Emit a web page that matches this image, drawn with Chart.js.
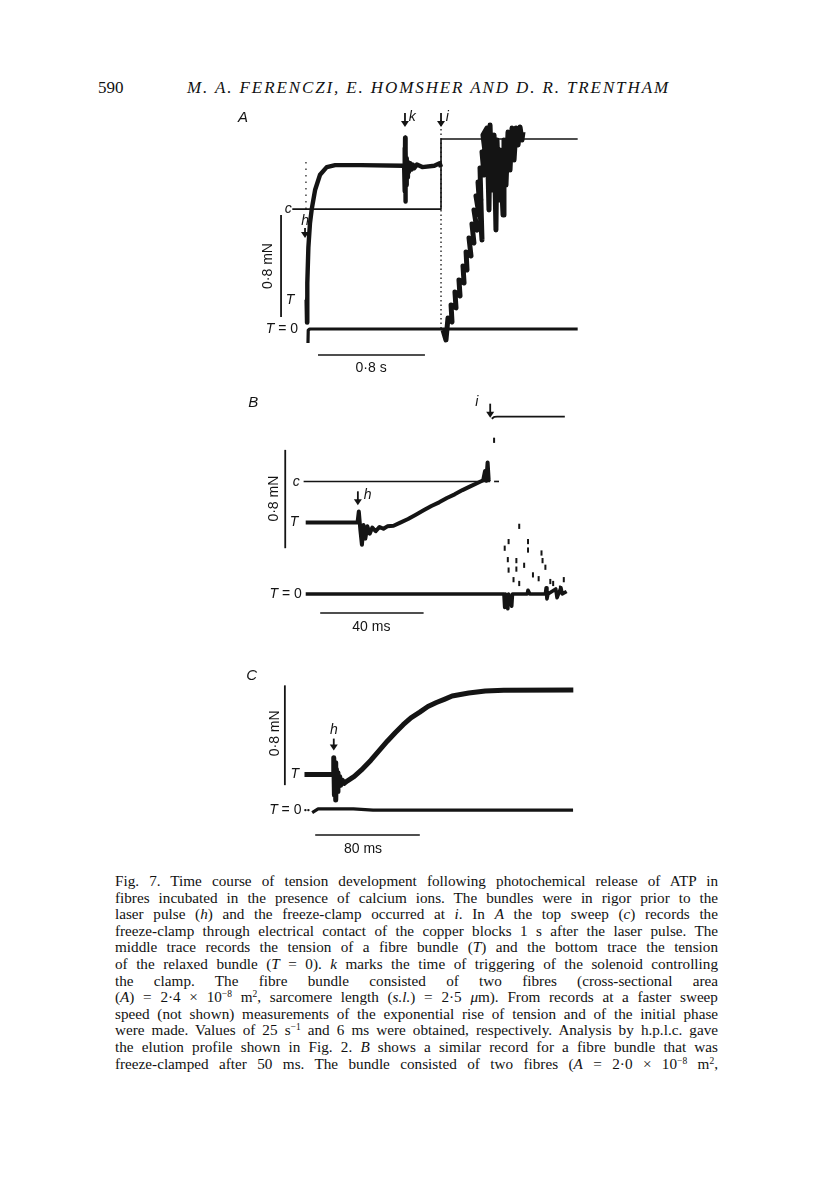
<!DOCTYPE html>
<html>
<head>
<meta charset="utf-8">
<script src="https://cdn.jsdelivr.net/npm/chart.js@4.4.1/dist/chart.umd.min.js"></script>
<style>
  body { margin: 0; background: #fff; width: 816px; height: 1181px; position: relative; overflow: hidden;
         font-family: "Liberation Serif", serif; color: #111; }
  canvas { position: absolute; }
  #pg { position: absolute; left: 98px; top: 79px; font-size: 17px; line-height: 17px; }
  #ttl { position: absolute; left: 187px; top: 79px; font-size: 17px; line-height: 17px; font-style: italic; white-space: nowrap; }
  #cap { position: absolute; left: 115px; top: 873px; width: 603px; font-size: 15.2px; line-height: 16.6px; }
  #cap div { white-space: nowrap; height: 16.6px; }
  sup { font-size: 9.5px; line-height: 0; vertical-align: 5px; }
</style>
</head>
<body>
<div id="pg">590</div>
<div id="ttl">M. A. FERENCZI, E. HOMSHER AND D. R. TRENTHAM</div>

<canvas id="panelA" width="360" height="270" style="left:230px;top:105px"></canvas>
<canvas id="panelB" width="360" height="255" style="left:230px;top:385px"></canvas>
<canvas id="panelC" width="360" height="200" style="left:230px;top:665px"></canvas>

<div id="cap">
<div>Fig. 7. Time course of tension development following photochemical release of ATP in</div>
<div>fibres incubated in the presence of calcium ions. The bundles were in rigor prior to the</div>
<div>laser pulse (<i>h</i>) and the freeze-clamp occurred at <i>i</i>. In <i>A</i> the top sweep (<i>c</i>) records the</div>
<div>freeze-clamp through electrical contact of the copper blocks 1 s after the laser pulse. The</div>
<div>middle trace records the tension of a fibre bundle (<i>T</i>) and the bottom trace the tension</div>
<div>of the relaxed bundle (<i>T</i> = 0). <i>k</i> marks the time of triggering of the solenoid controlling</div>
<div>the clamp. The fibre bundle consisted of two fibres (cross-sectional area</div>
<div>(<i>A</i>) = 2·4 × 10<sup>−8</sup> m<sup>2</sup>, sarcomere length (<i>s.l.</i>) = 2·5 <i>μ</i>m). From records at a faster sweep</div>
<div>speed (not shown) measurements of the exponential rise of tension and of the initial phase</div>
<div>were made. Values of 25 s<sup>−1</sup> and 6 ms were obtained, respectively. Analysis by h.p.l.c. gave</div>
<div>the elution profile shown in Fig. 2. <i>B</i> shows a similar record for a fibre bundle that was</div>
<div>freeze-clamped after 50 ms. The bundle consisted of two fibres (<i>A</i> = 2·0 × 10<sup>−8</sup> m<sup>2</sup>,</div>
</div>

<script>
// ---- panel A: time in s after the laser pulse, tension in mN ----
const aClampTime = [-0.11, 1.0, 1.0, 2.02];
const aClampForce = [0.94, 0.94, 1.49, 1.49];

const aTensionTime = [-0.015, -0.003, 0.0, 0.002, 0.010, 0.022, 0.035, 0.06, 0.097, 0.147, 0.21, 0.40, 0.72,
  0.725, 0.728, 0.730, 0.732, 0.734, 0.737, 0.740, 0.744, 0.748, 0.753, 0.76, 0.77, 0.78, 0.79, 0.80, 0.82,
  0.86, 0.95, 0.99, 1.0];
const aTensionForce = [0.23, 0.23, 0.05, 0.36, 0.64, 0.83, 0.94, 1.09, 1.21, 1.27, 1.285, 1.285, 1.28,
  1.27, 1.42, 1.08, 1.50, 1.00, 1.40, 1.13, 1.34, 1.19, 1.31, 1.23, 1.30, 1.25, 1.29, 1.26, 1.29,
  1.27, 1.28, 1.30, 1.27];

const aClampedTime = [1.015, 1.037, 1.052, 1.082, 1.075, 1.112, 1.104, 1.142, 1.134, 1.172, 1.164, 1.194,
  1.187, 1.224, 1.209, 1.246, 1.231, 1.269, 1.246, 1.284, 1.261, 1.299, 1.276, 1.306, 1.291, 1.321, 1.306,
  1.336, 1.313, 1.343, 1.358, 1.366, 1.381, 1.396, 1.410, 1.418, 1.433, 1.440, 1.463, 1.470, 1.485, 1.500,
  1.515, 1.530, 1.545, 1.560, 1.575, 1.590, 1.604, 1.612];
const aClampedForce = [-0.008, -0.086, 0.086, 0.055, 0.188, 0.165, 0.290, 0.259, 0.384, 0.361, 0.494, 0.463,
  0.604, 0.573, 0.714, 0.675, 0.824, 0.776, 0.933, 0.894, 1.043, 1.012, 1.153, 0.698, 1.263, 1.208, 1.388,
  1.325, 1.522, 1.576, 0.933, 1.600, 1.090, 1.522, 0.776, 1.482, 1.012, 1.404, 0.894, 1.482, 1.129, 1.545,
  1.247, 1.576, 1.325, 1.576, 1.443, 1.584, 1.482, 1.545];

const aRelaxedTime = [0.007, 0.009, 0.02, 2.02];
const aRelaxedForce = [-0.11, -0.01, 0, 0];

const aMarkTime = [-0.008, -0.008, 1.0, 1.0];
const aMarkForce = [1.31, 0.93, 1.64, 0.0];

const aBarTime = [-0.194, -0.194, 0.082, 0.88];
const aBarForce = [0.094, 0.894, -0.204, -0.204];

// ---- panel B: time in ms after the laser pulse, tension in mN ----
const bClampTime = [-21.3, 50.7, 52.2, 54.1, 51.3, 52.2, 53.4, 79.5];
const bClampForce = [0.915, 0.915, 0.915, 0.915, 1.425, 1.44, 1.442, 1.442];

const bTensionTime = [-20.5, -0.5, 0, 0.6, 1.2, 1.8, 2.5, 3.3, 4.2, 5.2, 6.5, 8, 9.5, 11, 13.4, 16, 19, 22, 25,
  28, 31, 34, 37, 40, 43, 46, 48, 48.7, 49.2, 49.7, 50.1, 50.7];
const bTensionForce = [0.581, 0.581, 0.67, 0.52, 0.40, 0.56, 0.45, 0.55, 0.49, 0.54, 0.51, 0.545, 0.53, 0.55,
  0.555, 0.58, 0.61, 0.645, 0.68, 0.715, 0.745, 0.78, 0.81, 0.845, 0.875, 0.905, 0.925, 1.0, 0.92, 1.07,
  0.93, 0.935];

const bRelaxedTime = [-20.5, 56, 56.3, 56.6, 57.5, 57.8, 59, 59.3, 65, 65.3, 66, 72, 72.3, 72.6, 73, 76, 76.5,
  78, 78.5, 80.2];
const bRelaxedForce = [0, 0, -0.11, 0, -0.12, 0, -0.1, 0, 0, 0.03, 0, 0, 0.05, -0.04, 0, 0.04, -0.03,
  0.05, 0, 0.02];

const bSpeckTime = [61.9, 57.8, 56.3, 65.3, 65.3, 57.5, 60.8, 63.8, 70.5, 70.9, 72.0, 57.8, 60.8, 67.2, 69.4,
  73.9, 75.0, 79.1, 59.7, 61.9, 77.6, 52.2];
const bSpeckForce = [0.55, 0.426, 0.372, 0.426, 0.357, 0.279, 0.271, 0.233, 0.333, 0.271, 0.217, 0.194,
  0.202, 0.155, 0.124, 0.101, 0.085, 0.116, 0.116, 0.085, 0.047, 1.25];

const bBarTime = [-28.4, -28.4, -14.9, 25.0];
const bBarForce = [0.372, 1.172, -0.155, -0.155];

// ---- panel C: time in ms after the laser pulse, tension in mN ----
const cTensionTime = [-22.4, -0.5, 0, 0.5, 1, 1.5, 2, 2.6, 3.2, 3.8, 4.5, 5.3, 6.5, 8, 10.5, 15.7, 21, 28.4,
  35, 41.1, 47, 53.1, 59, 65.8, 72, 78.5, 85, 90.5, 103.2, 115.9, 130, 183.2];
const cTensionForce = [0.285, 0.285, 0.42, 0.12, 0.38, 0.08, 0.33, 0.15, 0.30, 0.19, 0.27, 0.2, 0.24, 0.215,
  0.235, 0.27, 0.32, 0.40, 0.48, 0.554, 0.62, 0.685, 0.74, 0.785, 0.83, 0.862, 0.89, 0.915, 0.938, 0.954,
  0.96, 0.962];

const cRelaxedTime = [-16.5, -12, 15, 30, 183];
const cRelaxedForce = [-0.02, 0.01, 0.01, 0, 0];

const cDotTime = [-21.7, -19.4];
const cDotForce = [0, 0];

const cBarTime = [-37.4, -37.4, -14.2, 65.8];
const cBarForce = [0.2, 1.0, -0.2, -0.2];

const ink = '#141414';

function pts(ts, fs) { return ts.map((t, i) => ({ x: t, y: fs[i] })); }
function line(ts, fs, w, dash) {
  return { data: pts(ts, fs), borderColor: ink, borderWidth: w, pointRadius: 0, tension: 0,
           borderDash: dash || [], borderCapStyle: 'butt', borderJoinStyle: 'round', fill: false };
}
function bars(ts, fs) {
  return [line(ts.slice(0, 2), fs.slice(0, 2), 1.8), line(ts.slice(2), fs.slice(2), 1.6)];
}

function notes(items) {
  return {
    id: 'notes',
    afterDraw(chart) {
      const { ctx, scales: { x, y } } = chart;
      ctx.save();
      ctx.fillStyle = ink; ctx.strokeStyle = ink;
      items.forEach(n => {
        const px = x.getPixelForValue(n.t), py = y.getPixelForValue(n.f);
        if (n.arrow) {
          ctx.lineWidth = 1.8;
          ctx.beginPath(); ctx.moveTo(px, py - n.arrow); ctx.lineTo(px, py - 5); ctx.stroke();
          ctx.beginPath(); ctx.moveTo(px - 4, py - 6); ctx.lineTo(px + 4, py - 6); ctx.lineTo(px, py); ctx.closePath(); ctx.fill();
          return;
        }
        const size = n.size || 14;
        const fonts = n.parts.map(p => (p[1] ? 'italic ' : '') + size + 'px "Liberation Sans", Arial, sans-serif');
        let total = 0;
        const widths = n.parts.map((p, i) => { ctx.font = fonts[i]; const w = ctx.measureText(p[0]).width; total += w; return w; });
        ctx.save();
        ctx.translate(px, py);
        if (n.rot) ctx.rotate(n.rot);
        let start = n.align === 'right' ? -total : n.align === 'left' ? 0 : -total / 2;
        ctx.textBaseline = 'middle'; ctx.textAlign = 'left';
        n.parts.forEach((p, i) => { ctx.font = fonts[i]; ctx.fillText(p[0], start, 0); start += widths[i]; });
        ctx.restore();
      });
      ctx.restore();
    }
  };
}

function panel(id, xr, yr, datasets, items) {
  new Chart(document.getElementById(id), {
    type: 'line',
    data: { datasets },
    options: {
      responsive: false, animation: false, events: [],
      layout: { padding: 0 },
      plugins: { legend: { display: false }, tooltip: { enabled: false } },
      scales: {
        x: { type: 'linear', display: false, min: xr[0], max: xr[1] },
        y: { type: 'linear', display: false, min: yr[0], max: yr[1] }
      }
    },
    plugins: [notes(items)]
  });
}

panel('panelA', [-0.575, 2.112], [-0.361, 1.757], [
  line(aClampTime, aClampForce, 1.6),
  line(aTensionTime, aTensionForce, 4.4),
  line(aClampedTime, aClampedForce, 5.0),
  line(aRelaxedTime, aRelaxedForce, 3.2),
  line(aMarkTime.slice(0, 2), aMarkForce.slice(0, 2), 1.2, [1.5, 5]),
  line(aMarkTime.slice(2), aMarkForce.slice(2), 1.3, [1.5, 3]),
  ...bars(aBarTime, aBarForce)
], [
  { t: -0.478, f: 1.655, parts: [['A', true]], size: 15 },
  { t: 0.731, f: 1.584, arrow: 14 },
  { t: 0.760, f: 1.66, parts: [['k', true]], align: 'left' },
  { t: 1.0, f: 1.584, arrow: 14 },
  { t: 1.035, f: 1.66, parts: [['i', true]], align: 'left' },
  { t: -0.115, f: 0.94, parts: [['c', true]], align: 'right' },
  { t: -0.015, f: 0.85, parts: [['h', true]] },
  { t: -0.015, f: 0.714, arrow: 10 },
  { t: -0.127, f: 0.227, parts: [['T', true]] },
  { t: -0.067, f: 0, parts: [['T', true], [' = 0', false]], align: 'right' },
  { t: -0.291, f: 0.494, parts: [['0·8 mN', false]], rot: -Math.PI / 2 },
  { t: 0.478, f: -0.306, parts: [['0·8 s', false]] }
]);

panel('panelB', [-47.4, 86.9], [-0.326, 1.651], [
  line(bClampTime.slice(0, 2), bClampForce.slice(0, 2), 1.6),
  line(bClampTime.slice(2, 4), bClampForce.slice(2, 4), 1.6),
  line(bClampTime.slice(4), bClampForce.slice(4), 1.8),
  line(bTensionTime, bTensionForce, 4.0),
  line(bRelaxedTime, bRelaxedForce, 3.6),
  { type: 'scatter', data: pts(bSpeckTime, bSpeckForce), pointStyle: 'line', rotation: 90, pointRadius: 2.6,
    borderColor: ink, borderWidth: 2, showLine: false },
  ...bars(bBarTime, bBarForce)
], [
  { t: -40.7, f: 1.558, parts: [['B', true]], size: 15 },
  { t: 45.5, f: 1.558, parts: [['i', true]] },
  { t: 50.7, f: 1.434, arrow: 14 },
  { t: -22.8, f: 0.907, parts: [['c', true]], align: 'right' },
  { t: -25.0, f: 0.581, parts: [['T', true]] },
  { t: -0.37, f: 0.721, arrow: 14 },
  { t: 1.9, f: 0.806, parts: [['h', true]], align: 'left' },
  { t: -22.0, f: 0, parts: [['T', true], [' = 0', false]], align: 'right' },
  { t: -32.8, f: 0.775, parts: [['0·8 mN', false]], rot: -Math.PI / 2 },
  { t: 4.85, f: -0.271, parts: [['40 ms', false]] }
]);

panel('panelC', [-76.3, 192.9], [-0.408, 1.131], [
  line(cTensionTime, cTensionForce, 5.0),
  line(cRelaxedTime, cRelaxedForce, 3.2),
  { type: 'scatter', data: pts(cDotTime, cDotForce), pointStyle: 'circle', pointRadius: 1.2,
    backgroundColor: ink, borderWidth: 0, showLine: false },
  ...bars(cBarTime, cBarForce)
], [
  { t: -62.8, f: 1.077, parts: [['C', true]], size: 15 },
  { t: 0, f: 0.638, parts: [['h', true]] },
  { t: 0, f: 0.477, arrow: 12 },
  { t: -29.9, f: 0.285, parts: [['T', true]] },
  { t: -24.7, f: 0, parts: [['T', true], [' = 0', false]], align: 'right' },
  { t: -44.9, f: 0.615, parts: [['0·8 mN', false]], rot: -Math.PI / 2 },
  { t: 22.4, f: -0.315, parts: [['80 ms', false]] }
]);

// stretch the running head to the width it has on the page
(function fitTitle() {
  const el = document.getElementById('ttl');
  const n = el.textContent.length;
  const w = el.getBoundingClientRect().width;
  el.style.letterSpacing = ((481 - w) / (n - 1)).toFixed(2) + 'px';
})();

// justify each caption line to the column width; squeeze letters if the words alone cannot do it
document.querySelectorAll('#cap div').forEach(d => {
  d.innerHTML = '<span>' + d.innerHTML + '</span>';
  const span = d.firstChild;
  const w = span.getBoundingClientRect().width;
  const gaps = (d.textContent.match(/ /g) || []).length;
  let ws = (603 - w) / gaps;
  if (ws < 0.5) {
    ws = 0.5;
    const chars = d.textContent.length;
    span.style.letterSpacing = ((603 - w - ws * gaps) / (chars - 1)).toFixed(3) + 'px';
  }
  span.style.wordSpacing = ws.toFixed(2) + 'px';
});
</script>
</body>
</html>
